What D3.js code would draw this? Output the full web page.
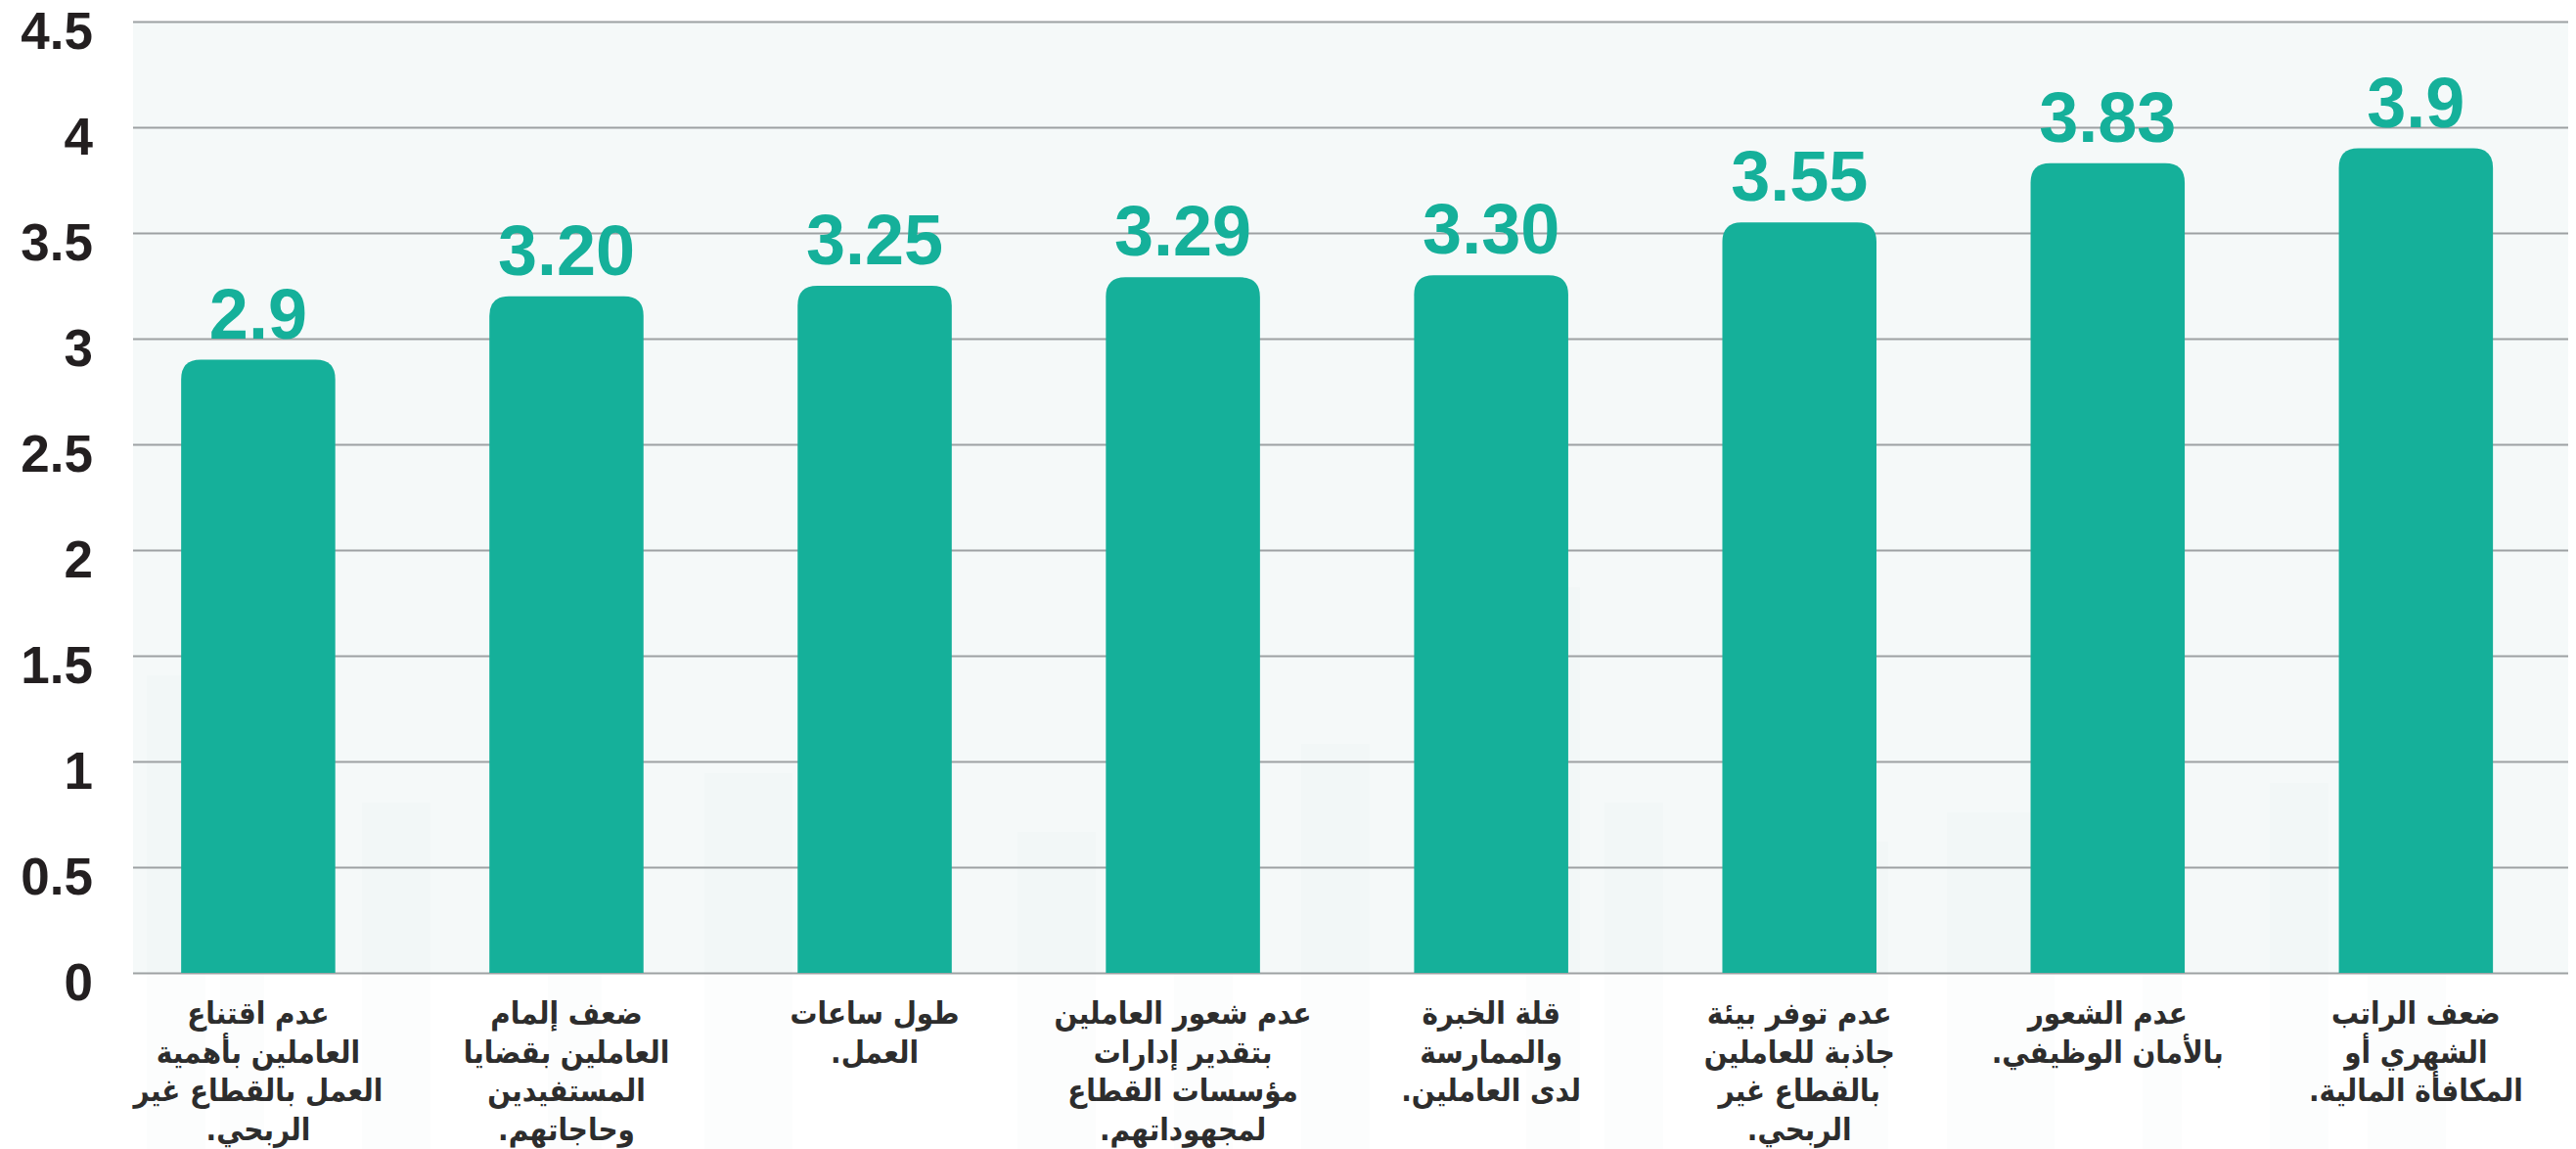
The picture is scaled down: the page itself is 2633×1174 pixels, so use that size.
<!DOCTYPE html>
<html lang="ar">
<head>
<meta charset="utf-8">
<script src="https://cdn.jsdelivr.net/npm/d3@7"></script>
<style>
  html, body { margin: 0; padding: 0; background: #ffffff; }
  svg { display: block; }
</style>
</head>
<body>
<svg id="chart" width="2633" height="1174"></svg>
<script>
// Reasons, average score per reason (bars left to right)
const categories = [
  ["عدم اقتناع", "العاملين بأهمية", "العمل بالقطاع غير", "الربحي."],
  ["ضعف إلمام", "العاملين بقضايا", "المستفيدين", "وحاجاتهم."],
  ["طول ساعات", "العمل."],
  ["عدم شعور العاملين", "بتقدير إدارات", "مؤسسات القطاع", "لمجهوداتهم."],
  ["قلة الخبرة", "والممارسة", "لدى العاملين."],
  ["عدم توفر بيئة", "جاذبة للعاملين", "بالقطاع غير", "الربحي."],
  ["عدم الشعور", "بالأمان الوظيفي."],
  ["ضعف الراتب", "الشهري أو", "المكافأة المالية."]
];
const values = [2.9, 3.20, 3.25, 3.29, 3.30, 3.55, 3.83, 3.9];
const valueLabels = ["2.9", "3.20", "3.25", "3.29", "3.30", "3.55", "3.83", "3.9"];
const yTicks = [0, 0.5, 1, 1.5, 2, 2.5, 3, 3.5, 4, 4.5];

// faint skyline backdrop: [left, width, top]
const skyline = [
  [150, 60, 690], [225, 45, 800], [370, 70, 820], [560, 55, 900], [720, 90, 790],
  [1040, 80, 850], [1200, 60, 880], [1330, 70, 760], [1560, 55, 600], [1640, 60, 820],
  [1840, 90, 860], [1990, 110, 830], [2190, 40, 710], [2320, 60, 800], [2420, 80, 780]
];

const svg = d3.select("#chart");
const plot = { left: 136, right: 2625, top: 22, bottom: 994 };
const teal = "#15b09a";

const x = d3.scaleBand()
  .domain(d3.range(values.length))
  .range([plot.left, plot.right])
  .paddingInner(0.5)
  .paddingOuter(0.2)
  .align(0.39);

const y = d3.scaleLinear()
  .domain([0, 4.5])
  .range([plot.bottom, plot.top]);

// plot background
svg.append("rect")
  .attr("x", plot.left).attr("y", plot.top)
  .attr("width", plot.right - plot.left)
  .attr("height", plot.bottom - plot.top)
  .attr("fill", "#f5f9f9");

// backdrop buildings, barely visible
svg.append("g").selectAll("rect")
  .data(skyline)
  .join("rect")
  .attr("x", d => d[0])
  .attr("y", d => d[2])
  .attr("width", d => d[1])
  .attr("height", d => 1174 - d[2])
  .attr("fill", "#7f8f8f")
  .attr("opacity", 0.018);

// gridlines and value axis labels
const yAxis = d3.axisLeft(y)
  .tickValues(yTicks)
  .tickSize(-(plot.right - plot.left))
  .tickFormat(d3.format("~g"));

const gAxis = svg.append("g")
  .attr("transform", `translate(${plot.left},0)`)
  .call(yAxis);
gAxis.select(".domain").remove();
gAxis.selectAll(".tick line")
  .attr("stroke", "#9da1a3")
  .attr("stroke-width", 2);
gAxis.selectAll(".tick text")
  .attr("x", -41)
  .attr("dy", "0.52em")
  .attr("text-anchor", "end")
  .attr("fill", "#231f20")
  .style("font-family", "'Liberation Sans', Arial, sans-serif")
  .style("font-weight", "bold")
  .style("font-size", "53px");

// bars with rounded top corners
const r = 20;
function barPath(i) {
  const x0 = x(i), w = x.bandwidth();
  const yt = y(values[i]), yb = y(0);
  return `M${x0},${yb}V${yt + r}Q${x0},${yt} ${x0 + r},${yt}` +
         `H${x0 + w - r}Q${x0 + w},${yt} ${x0 + w},${yt + r}V${yb}Z`;
}
svg.append("g").selectAll("path")
  .data(values)
  .join("path")
  .attr("d", (d, i) => barPath(i))
  .attr("fill", teal);

// value labels
svg.append("g").selectAll("text")
  .data(values)
  .join("text")
  .attr("x", (d, i) => x(i) + x.bandwidth() / 2)
  .attr("y", d => y(d) - 22)
  .attr("text-anchor", "middle")
  .attr("fill", teal)
  .style("font-family", "'Liberation Sans', Arial, sans-serif")
  .style("font-weight", "bold")
  .style("font-size", "72px")
  .text((d, i) => valueLabels[i]);

// category labels
const catG = svg.append("g");
categories.forEach((lines, i) => {
  const cx = x(i) + x.bandwidth() / 2;
  const t = catG.append("text")
    .attr("x", cx)
    .attr("y", 1046)
    .attr("text-anchor", "middle")
    .attr("direction", "rtl")
    .attr("fill", "#2d2d2d")
    .style("font-family", "'DejaVu Sans Condensed', 'DejaVu Sans', sans-serif")
    .style("font-weight", "bold")
    .style("font-size", "31px");
  lines.forEach((ln, k) => {
    t.append("tspan")
      .attr("x", cx)
      .attr("y", 1046 + k * 39.5)
      .text(ln);
  });
});
</script>
</body>
</html>
